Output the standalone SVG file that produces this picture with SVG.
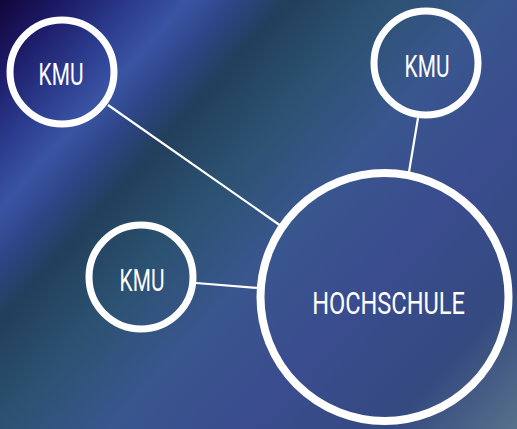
<svg xmlns="http://www.w3.org/2000/svg" width="517" height="429" viewBox="0 0 517 429">
<defs>
<linearGradient id="bg" gradientUnits="userSpaceOnUse" x1="0" y1="0" x2="497" y2="447">
<stop offset="0" stop-color="#12063a"/>
<stop offset="0.07" stop-color="#1c1a66"/>
<stop offset="0.15" stop-color="#2c3c8e"/>
<stop offset="0.21" stop-color="#3a54a3"/>
<stop offset="0.26" stop-color="#2e4688"/>
<stop offset="0.32" stop-color="#223f5c"/>
<stop offset="0.43" stop-color="#2c5272"/>
<stop offset="0.55" stop-color="#39568e"/>
<stop offset="0.7" stop-color="#3a4c8e"/>
<stop offset="0.86" stop-color="#344a80"/>
<stop offset="1" stop-color="#56708a"/>
</linearGradient>
<style>
.node{fill:none;stroke:#ffffff;stroke-width:7}
.big{stroke-width:8}
.lbl{fill:#ffffff;font-family:Roboto,"Liberation Sans",sans-serif;font-weight:400;font-size:32px;text-anchor:middle}
.edge{stroke:#ffffff;stroke-width:2.2;fill:none}
</style>
</defs>
<rect width="517" height="429" fill="url(#bg)"/>
<g id="connectors">
<line class="edge" x1="108" y1="105" x2="281" y2="226"/>
<line class="edge" x1="418" y1="118" x2="409" y2="172"/>
<line class="edge" x1="196" y1="283" x2="258" y2="288"/>
</g>
<g id="kmu-top-left">
<circle class="node" cx="62" cy="72" r="52"/>
<text class="lbl" transform="translate(61,84.5) scale(0.7,1)" x="0" y="0" textLength="64" lengthAdjust="spacingAndGlyphs">KMU</text>
</g>
<g id="kmu-top-right">
<circle class="node" cx="426" cy="63" r="52"/>
<text class="lbl" transform="translate(427,76.5) scale(0.7,1)" x="0" y="0" textLength="64" lengthAdjust="spacingAndGlyphs">KMU</text>
</g>
<g id="kmu-middle">
<circle class="node" cx="141" cy="277" r="52"/>
<text class="lbl" transform="translate(142,290.5) scale(0.7,1)" x="0" y="0" textLength="64" lengthAdjust="spacingAndGlyphs">KMU</text>
</g>
<g id="hochschule">
<circle class="node big" cx="384.5" cy="297" r="124"/>
<text class="lbl" transform="translate(388.5,313.5) scale(0.76,1)" x="0" y="0" textLength="201" lengthAdjust="spacingAndGlyphs">HOCHSCHULE</text>
</g>
</svg>
